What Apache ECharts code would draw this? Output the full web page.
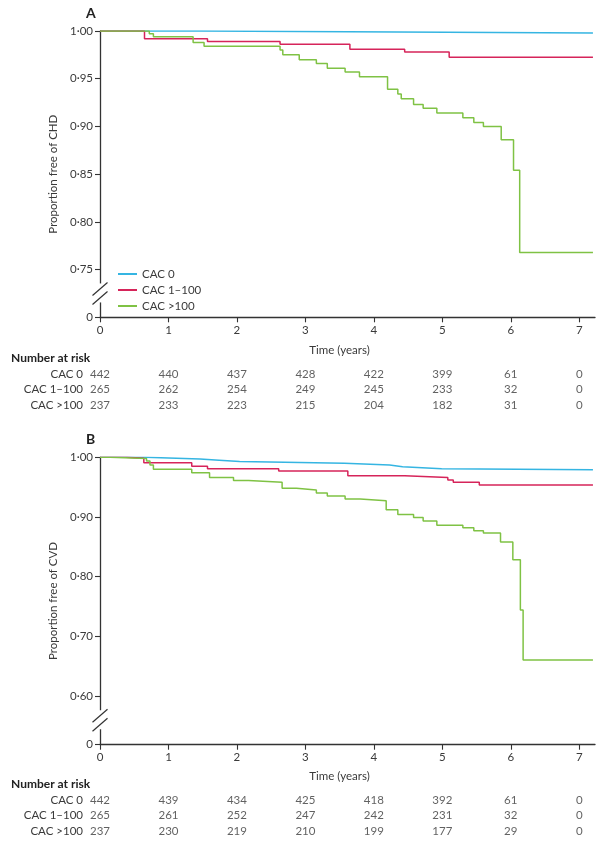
<!DOCTYPE html>
<html><head><meta charset="utf-8">
<script src="https://cdn.jsdelivr.net/npm/echarts@6/dist/echarts.min.js"></script>
<style>html,body{margin:0;padding:0;background:#fff}#c{width:601px;height:843px}</style>
</head><body><div id="c"></div>
<script>
// ---------- data ----------
const groups = ['CAC 0', 'CAC 1–100', 'CAC >100'];
const xTicks = [0, 1, 2, 3, 4, 5, 6, 7];
const xMax = 7.23;
const yTicksA = [0.75, 0.80, 0.85, 0.90, 0.95, 1.00];
const yBreakA = 0.70;          // bottom of broken axis (labelled "0")
const yTicksB = [0.60, 0.70, 0.80, 0.90, 1.00];
const yBreakB = 0.518;

// Panel A (CHD) Kaplan-Meier steps
const tA0 = [0, 1.48, 7.2];
const sA0 = [1.000, 0.998, 0.998];
const tA1 = [0, 0.65, 1.57, 2.63, 3.65, 4.45, 5.10, 7.2];
const sA1 = [1.000, 0.992, 0.989, 0.986, 0.981, 0.978, 0.9725, 0.9725];
const tA2 = [0, 0.72, 0.78, 1.36, 1.52, 2.63, 2.67, 2.91, 3.16, 3.32, 3.58, 3.79, 4.20, 4.35, 4.40, 4.58, 4.72, 4.92, 5.30, 5.46, 5.60, 5.86, 6.04, 6.13, 7.2];
const sA2 = [1.000, 0.997, 0.994, 0.988, 0.984, 0.980, 0.975, 0.970, 0.966, 0.961, 0.957, 0.952, 0.939, 0.934, 0.929, 0.923, 0.919, 0.914, 0.909, 0.904, 0.900, 0.886, 0.854, 0.768, 0.768];

// Panel B (CVD) Kaplan-Meier steps
const tB0 = [0, 0.66, 1.46, 1.74, 2.04, 3.57, 4.23, 4.42, 4.99, 7.2];
const sB0 = [1.000, 0.997, 0.995, 0.993, 0.990, 0.987, 0.984, 0.981, 0.979, 0.979];
const tB1 = [0, 0.39, 0.64, 1.34, 1.57, 2.61, 3.62, 4.45, 5.08, 5.16, 5.54, 7.2];
const sB1 = [1.000, 0.9985, 0.991, 0.985, 0.981, 0.977, 0.969, 0.966, 0.962, 0.958, 0.9535, 0.9535];
const tB2 = [0, 0.15, 0.68, 0.73, 0.78, 1.34, 1.60, 1.95, 2.17, 2.66, 2.87, 3.16, 3.32, 3.58, 3.80, 4.18, 4.35, 4.58, 4.72, 4.92, 5.30, 5.46, 5.60, 5.85, 6.03, 6.14, 6.18, 7.2];
const sB2 = [1.000, 0.998, 0.994, 0.987, 0.980, 0.974, 0.966, 0.961, 0.958, 0.948, 0.945, 0.940, 0.935, 0.930, 0.927, 0.912, 0.904, 0.899, 0.893, 0.886, 0.882, 0.877, 0.873, 0.858, 0.828, 0.744, 0.660, 0.660];

// Number at risk
const riskA0 = [442, 440, 437, 428, 422, 399, 61, 0];
const riskA1 = [265, 262, 254, 249, 245, 233, 32, 0];
const riskA2 = [237, 233, 223, 215, 204, 182, 31, 0];
const riskB0 = [442, 439, 434, 425, 418, 392, 61, 0];
const riskB1 = [265, 261, 252, 247, 242, 231, 32, 0];
const riskB2 = [237, 230, 219, 210, 199, 177, 29, 0];

// ---------- chart ----------
const colors = ['#35b5e2', '#d6245a', '#7fc244'];
const FONT = 'Lato';
const TXT = '#3a3a3a';
const AX = '#333';

const zip = (t, s) => t.map((v, i) => [v, s[i]]);
const fmtY = (min) => (v) => Math.abs(v - min) < 1e-6 ? '0' : v.toFixed(2).replace('.', '·');

const grids = [
  {left: 100, top: 31, width: 495, height: 286.3},
  {left: 100, top: 366.3, width: 495, height: 46.5},
  {left: 100, top: 457.3, width: 495, height: 287.4},
  {left: 100, top: 792.3, width: 495, height: 46.2}
];

function plotX(gi, nameGap) {
  return {
    type: 'value', gridIndex: gi, min: 0, max: xMax,
    name: 'Time (years)', nameLocation: 'middle', nameGap: nameGap,
    nameTextStyle: {fontFamily: FONT, fontSize: 11.5, color: TXT, padding: [0, 16, 0, 0]},
    axisLine: {onZero: false, lineStyle: {color: AX, width: 1.3}},
    axisTick: {show: true, length: 5, customValues: xTicks, lineStyle: {color: AX, width: 1.1}},
    axisLabel: {customValues: xTicks, margin: 7, fontFamily: FONT, fontSize: 11.5, color: TXT},
    splitLine: {show: false}
  };
}
function plotY(gi, min, ticks, name) {
  const vals = [min].concat(ticks);
  return {
    type: 'value', gridIndex: gi, min: min, max: 1.0,
    name: name, nameLocation: 'middle', nameGap: 40,
    nameTextStyle: {fontFamily: FONT, fontSize: 11.5, color: TXT},
    axisLine: {onZero: false, lineStyle: {color: AX, width: 1.3}},
    axisTick: {show: true, length: 5, customValues: vals, lineStyle: {color: AX, width: 1.1}},
    axisLabel: {customValues: vals, margin: 7, formatter: fmtY(min), fontFamily: FONT, fontSize: 11.5, color: TXT},
    splitLine: {show: false}
  };
}
function riskX(gi) {
  return {type: 'value', gridIndex: gi, min: 0, max: xMax, show: false};
}
function riskY(gi) {
  return {
    type: 'category', gridIndex: gi, data: groups, inverse: true,
    axisLine: {show: false}, axisTick: {show: false},
    axisLabel: {interval: 0, margin: 17, fontFamily: FONT, fontSize: 11.5, color: TXT}
  };
}
function kmSeries(name, t, s, idx, c) {
  return {
    type: 'line', name: name, xAxisIndex: idx, yAxisIndex: idx, step: 'end',
    data: zip(t, s), symbol: 'none', showSymbol: false, silent: true,
    lineStyle: {color: c, width: 1.5}, itemStyle: {color: c}
  };
}
function riskSeries(idx, rows) {
  const data = [];
  rows.forEach((r, ri) => r.forEach((n, ti) => data.push([xTicks[ti], ri, n])));
  return {
    type: 'scatter', xAxisIndex: idx, yAxisIndex: idx, data: data, silent: true,
    symbolSize: 1, itemStyle: {color: 'rgba(0,0,0,0)'},
    labelLayout: {hideOverlap: false},
    label: {show: true, position: 'inside', formatter: p => String(p.value[2]),
            fontFamily: FONT, fontSize: 11.5, color: TXT}
  };
}

const chart = echarts.init(document.getElementById('c'), null, {renderer: 'canvas'});
chart.setOption({
  animation: false,
  backgroundColor: '#fff',
  title: [
    {text: 'A', left: 81, top: 1, textStyle: {fontFamily: FONT, fontSize: 14, fontWeight: 'bold', color: '#222'}},
    {text: 'B', left: 81, top: 427, textStyle: {fontFamily: FONT, fontSize: 14, fontWeight: 'bold', color: '#222'}},
    {text: 'Number at risk', left: 6, top: 347, textStyle: {fontFamily: FONT, fontSize: 12, fontWeight: 'bold', color: '#222'}},
    {text: 'Number at risk', left: 6, top: 773, textStyle: {fontFamily: FONT, fontSize: 12, fontWeight: 'bold', color: '#222'}}
  ],
  legend: {
    data: groups, orient: 'vertical', left: 113, top: 263, itemGap: 4,
    itemWidth: 19, itemHeight: 2, icon: 'rect', selectedMode: false,
    textStyle: {fontFamily: FONT, fontSize: 11.5, color: TXT}
  },
  grid: grids,
  xAxis: [plotX(0, 27), riskX(1), plotX(2, 26), riskX(3)],
  yAxis: [plotY(0, yBreakA, yTicksA, 'Proportion free of CHD'), riskY(1),
          plotY(2, yBreakB, yTicksB, 'Proportion free of CVD'), riskY(3)],
  series: [
    kmSeries(groups[0], tA0, sA0, 0, colors[0]),
    kmSeries(groups[1], tA1, sA1, 0, colors[1]),
    kmSeries(groups[2], tA2, sA2, 0, colors[2]),
    riskSeries(1, [riskA0, riskA1, riskA2]),
    kmSeries(groups[0], tB0, sB0, 2, colors[0]),
    kmSeries(groups[1], tB1, sB1, 2, colors[1]),
    kmSeries(groups[2], tB2, sB2, 2, colors[2]),
    riskSeries(3, [riskB0, riskB1, riskB2])
  ]
});

// axis-break marks ("//") placed from the axis scale
function breakMarks(gi, yMin, yLow) {
  const p0 = chart.convertToPixel({gridIndex: gi}, [0, yMin]);
  const p1 = chart.convertToPixel({gridIndex: gi}, [0, yLow]);
  const x = p0[0], mid = (p0[1] + p1[1]) / 2;
  const sl = (cy) => ({type: 'line', z: 101,
    shape: {x1: x - 7.5, y1: cy + 6.5, x2: x + 7.5, y2: cy - 6.5},
    style: {stroke: AX, lineWidth: 1.2}});
  return [
    {type: 'rect', z: 100, shape: {x: x - 3, y: mid - 10, width: 6, height: 19}, style: {fill: '#fff'}},
    sl(mid - 4.5), sl(mid + 4.5)
  ];
}
chart.setOption({graphic: breakMarks(0, yBreakA, yTicksA[0]).concat(breakMarks(2, yBreakB, yTicksB[0]))});
</script></body></html>
